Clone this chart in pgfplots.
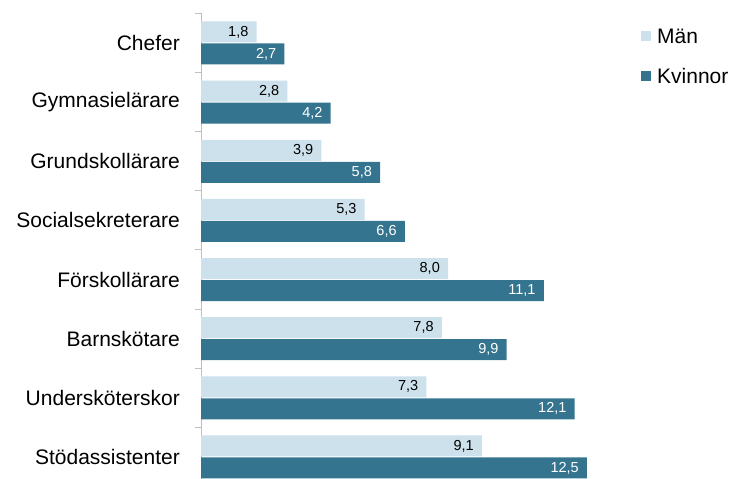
\documentclass[border=0pt]{standalone}
\usepackage{pgfplots}
\pgfplotsset{compat=1.18}
\usepackage{fontspec}
\setmainfont{Liberation Sans}
\definecolor{man}{HTML}{CCE1EC}
\definecolor{kv}{HTML}{35748F}
\definecolor{axgray}{HTML}{BFBFBF}
\begin{document}
\begin{tikzpicture}
\path[use as bounding box] (0,0) rectangle (734bp,-479bp);
\begin{axis}[
  at={(201bp,-13.4bp)}, anchor=north west,
  scale only axis, width=432.3bp, height=465.1bp,
  xbar, bar width=21bp,
  xmin=0, xmax=14, ymin=-0.5, ymax=7.364, y dir=reverse,
  axis x line=none, axis y line*=left,
  y axis line style={axgray, line width=1bp},
  ytick={0,...,7},
  yticklabels={Chefer,Gymnasielärare,Grundskollärare,Socialsekreterare,Förskollärare,Barnskötare,Undersköterskor,Stödassistenter},
  minor ytick={-0.5,0.5,1.5,2.5,3.5,4.5,5.5,6.5},
  major tick length=0pt, minor tick length=6bp, tick align=outside,
  minor tick style={axgray, line width=1bp},
  y tick label style={font=\fontsize{21bp}{25bp}\selectfont, inner sep=0pt, xshift=-21bp},
  /pgf/number format/.cd, fixed, fixed zerofill, precision=1, use comma, assume math mode=true,
  /pgfplots/.cd,
  nodes near coords,
  nodes near coords align={anchor=east},
  every node near coord/.append style={font=\fontsize{14.5bp}{16bp}\selectfont, inner sep=0pt, xshift=-8bp},
  legend style={at={(1,1)}, anchor=north west, xshift=7.7bp, yshift=-15bp, draw=none, fill=none, inner sep=0pt,
    row sep=25bp, font=\fontsize{21bp}{25bp}\selectfont,
    nodes={inner sep=0pt, text depth=0pt},
    /tikz/every odd column/.append style={column sep=6bp}},
  legend image code/.code={\fill[#1,draw=none] (0bp,-5bp) rectangle (10bp,5bp);},
  legend cell align=left,
]
\addplot[fill=man, draw=none, bar shift=11bp, every node near coord/.append style={text=black}]
  coordinates {(1.8,0) (2.8,1) (3.9,2) (5.3,3) (8.0,4) (7.8,5) (7.3,6) (9.1,7)};
\addplot[fill=kv, draw=none, bar shift=-11bp, every node near coord/.append style={text=white}]
  coordinates {(2.7,0) (4.2,1) (5.8,2) (6.6,3) (11.1,4) (9.9,5) (12.1,6) (12.5,7)};
\legend{Män,Kvinnor}
\end{axis}
\end{tikzpicture}
\end{document}
